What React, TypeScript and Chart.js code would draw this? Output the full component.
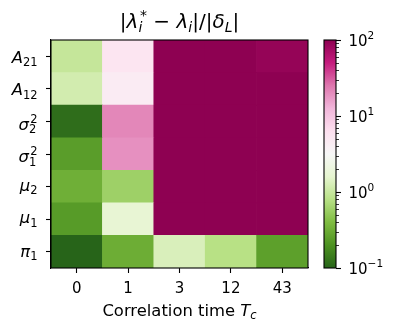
import React, { useEffect, useRef } from 'react';
import { Chart, registerables } from 'chart.js';
Chart.register(...registerables);

// ---- data ----
const columns = ['0', '1', '3', '12', '43'];
// rows listed bottom to top; values per column (Tc = 0, 1, 3, 12, 43)
const rowPi1 = [0.1, 0.31, 1.3, 0.79, 0.25];
const rowMu1 = [0.23, 1.7, 500, 500, 500];
const rowMu2 = [0.32, 0.58, 500, 500, 500];
const rowSigma1 = [0.24, 19, 500, 500, 500];
const rowSigma2 = [0.115, 21, 500, 500, 500];
const rowA12 = [1.17, 4.5, 500, 500, 500];
const rowA21 = [0.96, 5.4, 500, 500, 92];
const rows = [rowPi1, rowMu1, rowMu2, rowSigma1, rowSigma2, rowA12, rowA21];

type Tok = { t: string; it?: boolean; sub?: string; sup?: string; subIt?: boolean };
const rowLabels: Tok[][] = [
  [{ t: 'π', it: true, sub: '1' }],
  [{ t: 'μ', it: true, sub: '1' }],
  [{ t: 'μ', it: true, sub: '2' }],
  [{ t: 'σ', it: true, sub: '1', sup: '2' }],
  [{ t: 'σ', it: true, sub: '2', sup: '2' }],
  [{ t: 'A', it: true, sub: '12' }],
  [{ t: 'A', it: true, sub: '21' }],
];
const titleToks: Tok[] = [
  { t: '|' },
  { t: 'λ', it: true, sub: 'i', subIt: true, sup: '*' },
  { t: ' − ' },
  { t: 'λ', it: true, sub: 'i', subIt: true },
  { t: '|/|' },
  { t: 'δ', it: true, sub: 'L', subIt: true },
  { t: '|' },
];
const xTitleToks: Tok[] = [{ t: 'Correlation time ' }, { t: 'T', it: true, sub: 'c', subIt: true }];

const vmin = 0.1;
const vmax = 100;
const majorTicks = [0.1, 1, 10, 100];
const majorExp = ['−1', '0', '1', '2'];
const minorTicks = [0.2, 0.3, 0.4, 0.5, 0.6, 0.7, 0.8, 0.9, 2, 3, 4, 5, 6, 7, 8, 9, 20, 30, 40, 50, 60, 70, 80, 90];

// PiYG reversed (green -> white -> magenta)
const PIYG_R = ['#276419', '#4d9221', '#7fbc41', '#b8e186', '#e6f5d0', '#f7f7f7', '#fde0ef', '#f1b6da', '#de77ae', '#c51b7d', '#8e0152'];

const FONT = '"DejaVu Sans", sans-serif';
const FS_TICK = 15;
const FS_LABEL = 16.4;
const FS_TITLE = 20;

function hex(c: string) {
  return [parseInt(c.slice(1, 3), 16), parseInt(c.slice(3, 5), 16), parseInt(c.slice(5, 7), 16)];
}
function cmap(t: number) {
  t = Math.max(0, Math.min(1, t));
  const p = t * 10;
  const i = Math.min(9, Math.floor(p));
  const f = p - i;
  const a = hex(PIYG_R[i]);
  const b = hex(PIYG_R[i + 1]);
  const c = a.map((v, k) => Math.round(v + (b[k] - v) * f));
  return `rgb(${c[0]},${c[1]},${c[2]})`;
}
function norm(v: number) {
  return (Math.log10(v) - Math.log10(vmin)) / (Math.log10(vmax) - Math.log10(vmin));
}

function fontStr(size: number, it?: boolean) {
  return `${it ? 'italic ' : ''}${size}px ${FONT}`;
}
function mathWidth(ctx: CanvasRenderingContext2D, toks: Tok[], size: number) {
  let w = 0;
  for (const k of toks) {
    ctx.font = fontStr(size, k.it);
    w += ctx.measureText(k.t).width;
    let sw = 0;
    if (k.sub) {
      ctx.font = fontStr(size * 0.7, k.subIt);
      sw = Math.max(sw, ctx.measureText(k.sub).width);
    }
    if (k.sup) {
      ctx.font = fontStr(size * 0.7, false);
      sw = Math.max(sw, ctx.measureText(k.sup).width + (k.it ? size * 0.08 : 0));
    }
    w += sw;
  }
  return w;
}
function drawMath(ctx: CanvasRenderingContext2D, toks: Tok[], x: number, y: number, size: number, align: 'left' | 'center' | 'right') {
  const w = mathWidth(ctx, toks, size);
  let cx = align === 'center' ? x - w / 2 : align === 'right' ? x - w : x;
  ctx.save();
  ctx.textAlign = 'left';
  ctx.textBaseline = 'alphabetic';
  ctx.fillStyle = '#000';
  for (const k of toks) {
    ctx.font = fontStr(size, k.it);
    ctx.fillText(k.t, cx, y);
    cx += ctx.measureText(k.t).width;
    let sw = 0;
    if (k.sub) {
      ctx.font = fontStr(size * 0.7, k.subIt);
      ctx.fillText(k.sub, cx, y + size * 0.2);
      sw = Math.max(sw, ctx.measureText(k.sub).width);
    }
    if (k.sup) {
      ctx.font = fontStr(size * 0.7, false);
      const off = k.it ? size * 0.08 : 0;
      ctx.fillText(k.sup, cx + off, y - size * 0.42);
      sw = Math.max(sw, ctx.measureText(k.sup).width + off);
    }
    cx += sw;
  }
  ctx.restore();
}

// baseline offsets from tick centre, per glyph shape
function labelOffset(toks: Tok[]) {
  const b = toks[0];
  if (b.sup) return 8.3;
  if (b.t === 'A') return 6.6;
  if (b.t === 'μ') return 4.3;
  return 5;
}

const heatPlugin = {
  id: 'heatExtras',
  afterDraw(chart: any) {
    const { ctx, chartArea } = chart;
    const ys = chart.scales.y;
    ctx.save();
    ctx.strokeStyle = '#000';
    ctx.lineWidth = 1.1;
    ctx.strokeRect(chartArea.left, chartArea.top, chartArea.right - chartArea.left, chartArea.bottom - chartArea.top);
    ctx.restore();
    rowLabels.forEach((toks, i) => {
      const py = ys.getPixelForValue(i + 0.5);
      drawMath(ctx, toks, chartArea.left - 13.5, py + labelOffset(toks), FS_LABEL, 'right');
    });
    drawMath(ctx, titleToks, (chartArea.left + chartArea.right) / 2, 28, FS_TITLE, 'center');
    drawMath(ctx, xTitleToks, (chartArea.left + chartArea.right) / 2, 315.5, FS_LABEL, 'center');
  },
};

const cbPlugin = {
  id: 'cbExtras',
  afterDraw(chart: any) {
    const { ctx, chartArea } = chart;
    const ys = chart.scales.y;
    ctx.save();
    ctx.strokeStyle = '#000';
    ctx.lineWidth = 1.1;
    ctx.strokeRect(chartArea.left, chartArea.top, chartArea.right - chartArea.left, chartArea.bottom - chartArea.top);
    ctx.lineWidth = 0.8;
    minorTicks.forEach((v) => {
      const py = Math.round(ys.getPixelForValue(v)) + 0.5;
      ctx.beginPath();
      ctx.moveTo(chartArea.right, py);
      ctx.lineTo(chartArea.right + 3, py);
      ctx.stroke();
    });
    ctx.restore();
    majorTicks.forEach((v, i) => {
      const py = ys.getPixelForValue(v);
      drawMath(ctx, [{ t: '10', sup: majorExp[i] }], chartArea.right + 12.5, py + 5.5, FS_TICK, 'left');
    });
  },
};

export default function App() {
  const heatRef = useRef<HTMLCanvasElement>(null);
  const cbRef = useRef<HTMLCanvasElement>(null);

  useEffect(() => {
    const gridOpts = {
      display: true,
      drawOnChartArea: false,
      drawTicks: true,
      tickLength: 5,
      tickWidth: 1.1,
      tickColor: '#000',
      color: '#000',
      offset: false,
    };
    const heat = new Chart(heatRef.current!, {
      type: 'bar',
      data: {
        labels: columns,
        datasets: rows.map((vals, r) => ({
          label: `row${r}`,
          data: columns.map(() => 1),
          backgroundColor: vals.map((v) => cmap(norm(v))),
          borderWidth: 0,
          barPercentage: 1,
          categoryPercentage: 1,
        })),
      },
      options: {
        animation: false,
        responsive: false,
        maintainAspectRatio: false,
        layout: { padding: { top: 40, right: 91, left: 0, bottom: 0 } },
        plugins: { legend: { display: false }, tooltip: { enabled: false }, title: { display: false } },
        scales: {
          x: {
            type: 'category',
            stacked: true,
            offset: true,
            grid: gridOpts as any,
            border: { display: true, color: '#000', width: 1.1 },
            ticks: { color: '#000', font: { family: FONT, size: FS_TICK }, padding: 7, maxRotation: 0 },
            afterFit: (s: any) => {
              s.height = 63;
            },
          },
          y: {
            type: 'linear',
            stacked: true,
            min: 0,
            max: 7,
            afterBuildTicks: (s: any) => {
              s.ticks = rowLabels.map((_, i) => ({ value: i + 0.5 }));
            },
            grid: gridOpts as any,
            border: { display: true, color: '#000', width: 1.1 },
            ticks: { callback: () => '', autoSkip: false },
            afterFit: (s: any) => {
              s.width = 51;
            },
          },
        },
      },
      plugins: [heatPlugin],
    });

    const cb = new Chart(cbRef.current!, {
      type: 'bar',
      data: {
        labels: [''],
        datasets: [
          {
            data: [[vmin, vmax]] as any,
            backgroundColor: (c: any) => {
              const area = c.chart.chartArea;
              if (!area) return PIYG_R[5];
              const g = c.chart.ctx.createLinearGradient(0, area.bottom, 0, area.top);
              PIYG_R.forEach((col, i) => g.addColorStop(i / 10, col));
              return g;
            },
            borderWidth: 0,
            barPercentage: 1,
            categoryPercentage: 1,
          },
        ],
      },
      options: {
        animation: false,
        responsive: false,
        maintainAspectRatio: false,
        layout: { padding: { top: 40, left: 24, right: 0, bottom: 63 } },
        plugins: { legend: { display: false }, tooltip: { enabled: false } },
        scales: {
          x: { display: false },
          y: {
            type: 'logarithmic',
            position: 'right',
            min: vmin,
            max: vmax,
            afterBuildTicks: (s: any) => {
              s.ticks = majorTicks.map((v) => ({ value: v, major: true }));
            },
            grid: { display: true, drawOnChartArea: false, tickLength: 5, tickWidth: 1.1, tickColor: '#000' },
            border: { display: false },
            ticks: { callback: () => '', autoSkip: false },
            afterFit: (s: any) => {
              s.width = 63;
            },
          },
        },
      },
      plugins: [cbPlugin],
    });

    return () => {
      heat.destroy();
      cb.destroy();
    };
  }, []);

  return (
    <div style={{ position: 'fixed', left: 0, top: 0, width: 399, height: 331, background: '#fff' }}>
      <canvas ref={heatRef} width={399} height={331} style={{ position: 'absolute', left: 0, top: 0 }} />
      <canvas ref={cbRef} width={99} height={331} style={{ position: 'absolute', left: 300, top: 0 }} />
    </div>
  );
}
